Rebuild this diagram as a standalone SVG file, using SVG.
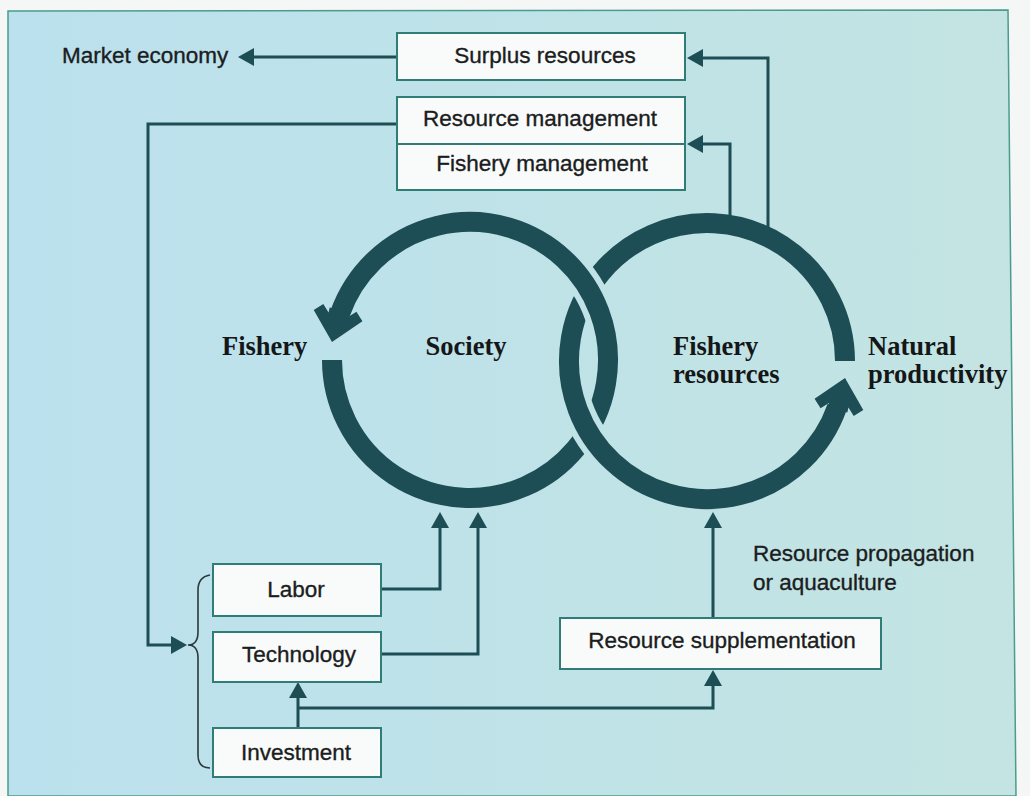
<svg xmlns="http://www.w3.org/2000/svg" width="1030" height="796" viewBox="0 0 1030 796">
  <style>
    .box { fill: #f9fbfa; stroke: #2f7d76; stroke-width: 2; }
    .lbl { font-family: "Liberation Sans", Arial, sans-serif; font-size: 22.5px; fill: #1b1d1e; stroke: #1b1d1e; stroke-width: 0.35; }
    .mid { text-anchor: middle; }
    .ser { font-family: "Liberation Serif", "Times New Roman", serif; font-weight: bold; font-size: 26.5px; fill: #141617; }
    .wire { fill: none; stroke: #1d4d55; stroke-width: 3; marker-end: url(#tip); }
    .ring { fill: none; stroke: #1d4d55; stroke-width: 20; }
    .head { fill: #1d4d55; }
  </style>
  <defs>
    <linearGradient id="water" x1="0" y1="0" x2="1" y2="0">
      <stop offset="0" stop-color="#bbe1ee"/>
      <stop offset="1" stop-color="#c3e4e2"/>
    </linearGradient>
    <marker id="tip" viewBox="0 0 16 18" refX="0" refY="9" markerWidth="16" markerHeight="18" markerUnits="userSpaceOnUse" orient="auto">
      <path d="M0,0 L16,9 L0,18 z" fill="#1d4d55"/>
    </marker>
    <!-- thick ring arrowhead, tip at origin, pointing along +x -->
    <polygon id="ringhead" points="0,0 -27,25 -35,17 -28,10 -33,10 -33,-10 -28,-10 -35,-17 -27,-25"/>
    <!-- left ring passes under the right ring at the lower crossing -->
    <mask id="cutLow" maskUnits="userSpaceOnUse" x="0" y="0" width="1030" height="796">
      <rect x="0" y="0" width="1030" height="796" fill="#fff"/>
      <path d="M609.4,458.6 A138,138 0 0 1 573.7,396.7" fill="none" stroke="#000" stroke-width="32"/>
    </mask>
    <!-- right ring passes under the left ring at the upper crossing -->
    <mask id="cutHigh" maskUnits="userSpaceOnUse" x="0" y="0" width="1030" height="796">
      <rect x="0" y="0" width="1030" height="796" fill="#fff"/>
      <path d="M567.6,262.4 A138,138 0 0 1 603.3,324.3" fill="none" stroke="#000" stroke-width="32"/>
    </mask>
  </defs>

  <!-- page and panel -->
  <rect x="0" y="0" width="1030" height="796" fill="#f5f7f6"/>
  <polygon points="8,11 1008,10 1016,796 8,796" fill="url(#water)" stroke="#4a9c8c" stroke-width="1.5"/>

  <!-- connectors -->
  <g id="connectors">
    <path class="wire" d="M397,57 H254"/>
    <path class="wire" d="M768,230 V58 H703"/>
    <path class="wire" d="M730,220 V144 H703"/>
    <path class="wire" d="M397,124 H148 V645 H171"/>
    <path class="wire" d="M381,589 H440 V528"/>
    <path class="wire" d="M381,654 H478 V528"/>
    <path class="wire" d="M298,728 V698"/>
    <path class="wire" d="M298,708 H713 V686"/>
    <path class="wire" d="M713,618 V528"/>
    <path id="brace" d="M210,575 Q198,577 198,590 V632 Q198,645 188,645 Q198,645 198,658 V755 Q198,768 210,768" fill="none" stroke="#2a3a3c" stroke-width="1.6"/>
  </g>

  <!-- society loop (left ring) -->
  <g id="society-loop" mask="url(#cutLow)">
    <path class="ring" d="M332,360 A138,138 0 1 0 339.9,313.9"/>
    <use href="#ringhead" class="head" transform="translate(332,342) rotate(103)"/>
  </g>

  <!-- fishery resources loop (right ring) -->
  <g id="resources-loop" mask="url(#cutHigh)">
    <path class="ring" d="M845,361 A138,138 0 1 0 837.1,407.1"/>
    <use href="#ringhead" class="head" transform="translate(845,378) rotate(-77)"/>
  </g>

  <g id="ring-labels">
    <text class="ser" x="222" y="355">Fishery</text>
    <text class="ser mid" x="466" y="355">Society</text>
    <text class="ser" x="673" y="355">Fishery</text>
    <text class="ser" x="673" y="383">resources</text>
    <text class="ser" x="868" y="355">Natural</text>
    <text class="ser" x="868" y="383">productivity</text>
  </g>

  <g id="market-economy">
    <text class="lbl" x="62" y="63">Market economy</text>
  </g>

  <g id="surplus-resources">
    <rect class="box" x="397" y="33" width="288" height="47"/>
    <text class="lbl mid" x="545" y="63">Surplus resources</text>
  </g>

  <g id="management">
    <rect class="box" x="397" y="97" width="288" height="93"/>
    <line x1="397" y1="144" x2="685" y2="144" stroke="#2f7d76" stroke-width="2"/>
    <text class="lbl mid" x="540" y="126">Resource management</text>
    <text class="lbl mid" x="542" y="171">Fishery management</text>
  </g>

  <g id="labor">
    <rect class="box" x="213" y="564" width="168" height="52"/>
    <text class="lbl mid" x="296" y="597">Labor</text>
  </g>

  <g id="technology">
    <rect class="box" x="213" y="632" width="168" height="50"/>
    <text class="lbl mid" x="299" y="662">Technology</text>
  </g>

  <g id="investment">
    <rect class="box" x="213" y="728" width="168" height="49"/>
    <text class="lbl mid" x="296" y="760">Investment</text>
  </g>

  <g id="resource-supplementation">
    <rect class="box" x="560" y="618" width="321" height="51"/>
    <text class="lbl mid" x="722" y="648">Resource supplementation</text>
  </g>

  <g id="propagation-note">
    <text class="lbl" x="753" y="561">Resource propagation</text>
    <text class="lbl" x="753" y="590">or aquaculture</text>
  </g>
</svg>
